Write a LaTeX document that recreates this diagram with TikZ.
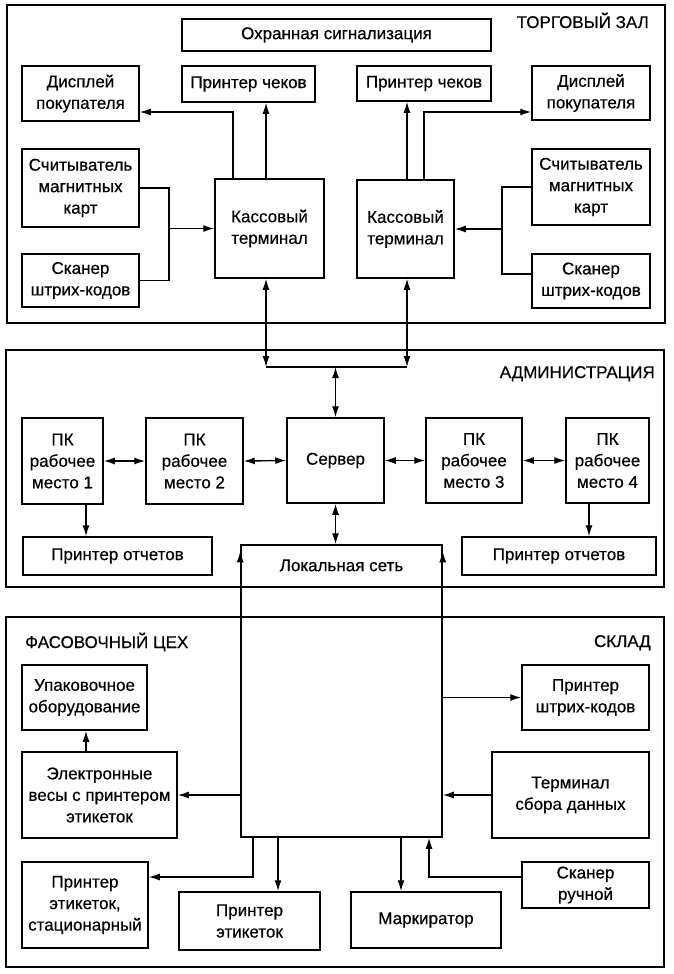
\documentclass[tikz,border=0pt]{standalone}
\usepackage{fontspec}
\setmainfont{Liberation Sans}[FakeBold=0.5]
\usetikzlibrary{arrows.meta}
\newcommand\myfsz{\fontsize{17}{21.5}\selectfont}
\begin{document}
\begin{tikzpicture}[x=1pt,y=-1pt,
  box/.style={draw, line width=1.5pt, inner sep=0pt, align=center, font=\myfsz},
  frame/.style={draw, line width=1.8pt, inner sep=0pt},
  title/.style={inner sep=0pt, font=\myfsz},
  arr/.style={-{Latex[length=11pt,width=7pt]}, line width=1.4pt},
  dbl/.style={{Latex[length=11pt,width=7pt]}-{Latex[length=11pt,width=7pt]}, line width=1.4pt},
  line/.style={line width=1.4pt}]
\fill[white] (0,0) rectangle (674,974);
\useasboundingbox (0,0) rectangle (674,974);

% frames
\node[frame, minimum width=658, minimum height=318] (zal) at (336,164) {};
\node[frame, minimum width=658, minimum height=237] (adm) at (335,468.5) {};
\node[frame, minimum width=658, minimum height=350] (low) at (335,792) {};

\node[title, anchor=base east] (tzal) at (649,28) {ТОРГОВЫЙ ЗАЛ};
\node[title, anchor=base east] (tadm) at (655,378) {АДМИНИСТРАЦИЯ};
\node[title, anchor=base west] (tfas) at (25,648) {ФАСОВОЧНЫЙ ЦЕХ};
\node[title, anchor=base east] (tskl) at (651,647) {СКЛАД};

% top section
\node[box, minimum width=309, minimum height=32] (alarm) at (336.5,35) {Охранная сигнализация};
\node[box, minimum width=117, minimum height=55] (disp1) at (80.5,93.5) {Дисплей\\покупателя};
\node[box, minimum width=133, minimum height=36] (prn1) at (248.5,84) {Принтер чеков};
\node[box, minimum width=117, minimum height=78] (rdr1) at (80.5,188) {Считыватель\\магнитных\\карт};
\node[box, minimum width=117, minimum height=53] (scn1) at (80.5,280.5) {Сканер\\штрих-кодов};
\node[box, minimum width=109, minimum height=99] (kas1) at (269.5,228.5) {Кассовый\\терминал};
\node[box, minimum width=97, minimum height=98] (kas2) at (405.5,229) {Кассовый\\терминал};
\node[box, minimum width=134, minimum height=35] (prn2) at (424,83.5) {Принтер чеков};
\node[box, minimum width=118, minimum height=54] (disp2) at (591,93) {Дисплей\\покупателя};
\node[box, minimum width=118, minimum height=76] (rdr2) at (591,187) {Считыватель\\магнитных\\карт};
\node[box, minimum width=118, minimum height=54] (scn2) at (591,281) {Сканер\\штрих-кодов};

% admin section
\node[box, minimum width=81, minimum height=86] (pc1) at (62.5,461) {ПК\\рабочее\\место 1};
\node[box, minimum width=97, minimum height=86] (pc2) at (194.5,461) {ПК\\рабочее\\место 2};
\node[box, minimum width=97, minimum height=85] (srv) at (335.5,460.5) {Сервер};
\node[box, minimum width=96, minimum height=85] (pc3) at (474,460.5) {ПК\\рабочее\\место 3};
\node[box, minimum width=83, minimum height=85] (pc4) at (607.5,460.5) {ПК\\рабочее\\место 4};
\node[box, minimum width=189, minimum height=38] (rep1) at (117.5,556) {Принтер отчетов};
\node[box, minimum width=194, minimum height=38] (rep2) at (559,556) {Принтер отчетов};

% LAN
\node[box, minimum width=201, minimum height=292,
  label={[title, anchor=north, yshift=-15pt]north:Локальная сеть}] (lan) at (341.5,691) {};

% lower section
\node[box, minimum width=125, minimum height=65] (pack) at (84.5,697.5) {Упаковочное\\оборудование};
\node[box, minimum width=155, minimum height=86] (scale) at (99.5,795) {Электронные\\весы с принтером\\этикеток};
\node[box, minimum width=126, minimum height=86] (lps) at (85,905) {Принтер\\этикеток,\\стационарный};
\node[box, minimum width=141, minimum height=58] (lp) at (249.5,921) {Принтер\\этикеток};
\node[box, minimum width=127, minimum height=65] (bcp) at (585.5,697.5) {Принтер\\штрих-кодов};
\node[box, minimum width=157, minimum height=86] (tsd) at (570.5,795) {Терминал\\сбора данных};
\node[box, minimum width=127, minimum height=46] (hsc) at (585.5,885) {Сканер\\ручной};
\node[box, minimum width=150, minimum height=56] (mark) at (426,920) {Маркиратор};

% top connectors left
\draw[arr] ([xshift=-36.5]kas1.north) |- ([yshift=-18.5]disp1.east);
\draw[arr] ([xshift=-3.5]kas1.north) coordinate (t1) -- (t1 |- prn1.south);
\coordinate (j1) at (169,188);
\draw[line] (rdr1.east) -- (j1) |- (scn1.east);
\draw[arr] (j1 |- kas1.west) -- (kas1.west);
% top connectors right
\draw[arr] ([xshift=1.5]kas2.north) coordinate (t2) -- (t2 |- prn2.south);
\draw[arr] ([xshift=18.5]kas2.north) |- ([yshift=-19]disp2.west);
\coordinate (j2) at (502,187);
\draw[line] (rdr2.west) -- (j2) |- ([yshift=7]scn2.west);
\draw[arr] (j2 |- kas2.east) -- (kas2.east);

% bus between kassa and server
\coordinate (b1) at (266,367);
\coordinate (b2) at (407,367);
\draw[dbl] ([xshift=-3.5]kas1.south) -- (b1);
\draw[dbl] ([xshift=1.5]kas2.south) -- (b2);
\draw[line] (b1) -- (b2);
\draw[dbl] (srv.north |- b1) -- (srv.north);

% admin connectors
\draw[dbl] (pc1.east) -- (pc2.west);
\draw[dbl] (pc2.east) -- (srv.west);
\draw[dbl] (srv.east) -- (pc3.west);
\draw[dbl] (pc3.east) -- (pc4.west);
\draw[arr] ([xshift=23.5]pc1.south) coordinate (t3) -- (t3 |- rep1.north);
\draw[arr] ([xshift=-18.5]pc4.south) coordinate (t4) -- (t4 |- rep2.north);
\draw[dbl] (srv.south) -- (srv.south |- lan.north);

% LAN side arrows
\draw[arr, shorten >=7pt] (lan.south west) -- (lan.north west);
\draw[arr, shorten >=7pt] (lan.south east) -- (lan.north east);

% lower connectors
\draw[arr] (lan.west |- scale.east) -- (scale.east);
\draw[arr] ([xshift=-13.5]scale.north) coordinate (t5) -- (t5 |- pack.south);
\draw[arr] ([xshift=-88.5]lan.south) |- ([yshift=28]lps.east);
\draw[arr] ([xshift=-63.5]lan.south) coordinate (t6) -- (t6 |- lp.north);
\draw[arr] (lan.east |- bcp.west) -- (bcp.west);
\draw[arr] (tsd.west) -- (tsd.west -| lan.east);
\draw[arr] ([yshift=8]hsc.west) -| ([xshift=87.5]lan.south);
\draw[arr] ([xshift=59.5]lan.south) coordinate (t7) -- (t7 |- mark.north);
\end{tikzpicture}
\end{document}
